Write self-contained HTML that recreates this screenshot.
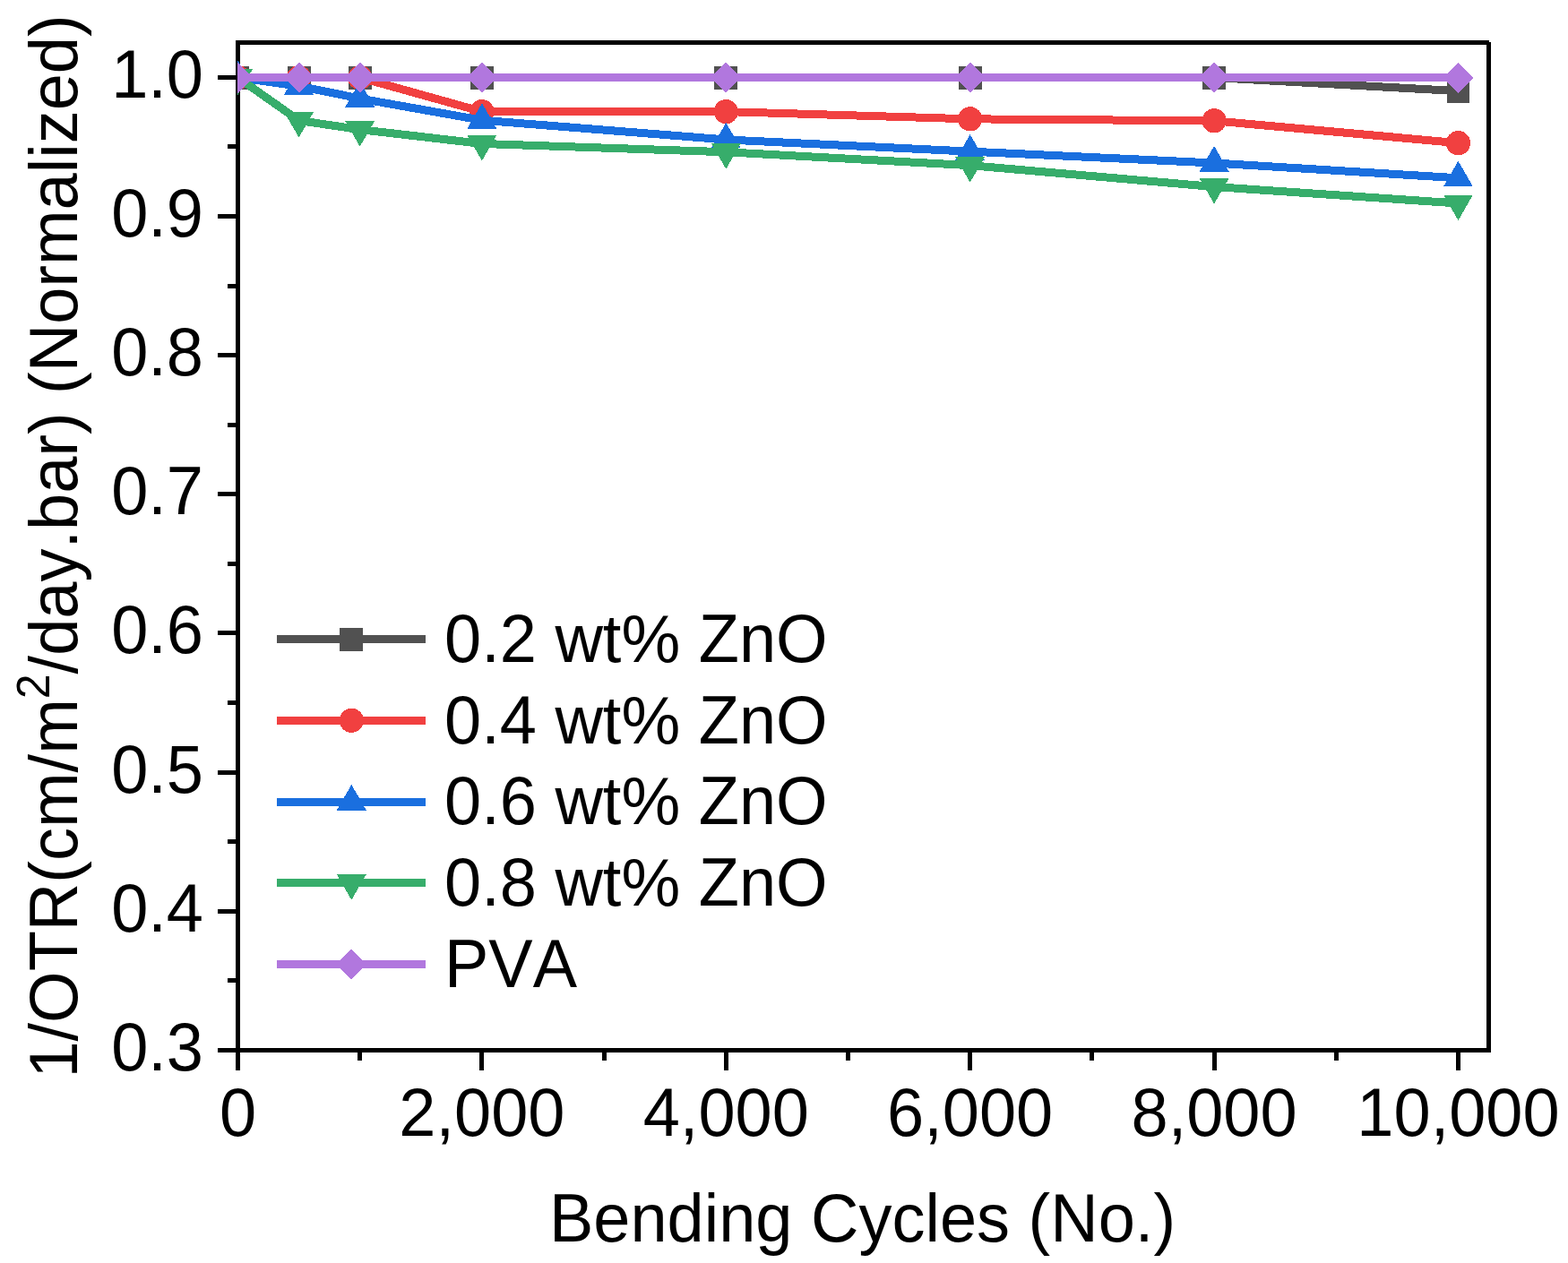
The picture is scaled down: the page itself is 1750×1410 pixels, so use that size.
<!DOCTYPE html>
<html><head><meta charset="utf-8">
<style>
html,body{margin:0;padding:0;background:#fff;}
body{width:1750px;height:1410px;overflow:hidden;}
svg{display:block;}
text{font-family:"Liberation Sans",Arial,sans-serif;font-size:74px;fill:#000;font-kerning:none;}
</style></head><body>
<svg width="1750" height="1410" viewBox="0 0 1750 1410">
<defs><clipPath id="cp"><rect x="265" y="47.5" width="1396.5" height="1125"/></clipPath></defs>
<rect width="1750" height="1410" fill="#fff"/>
<rect x="263" y="45" width="5" height="1130" fill="#000"/>
<rect x="263" y="45" width="1399" height="5" fill="#000"/>
<rect x="1659" y="47" width="5" height="1128" fill="#000"/>
<rect x="263" y="1170" width="1401" height="5" fill="#000"/>
<rect x="243" y="1170" width="22" height="5" fill="#000"/>
<rect x="254" y="1092" width="11" height="5" fill="#000"/>
<rect x="243" y="1015" width="22" height="5" fill="#000"/>
<rect x="254" y="937" width="11" height="5" fill="#000"/>
<rect x="243" y="860" width="22" height="5" fill="#000"/>
<rect x="254" y="782" width="11" height="5" fill="#000"/>
<rect x="243" y="704" width="22" height="5" fill="#000"/>
<rect x="254" y="627" width="11" height="5" fill="#000"/>
<rect x="243" y="549" width="22" height="5" fill="#000"/>
<rect x="254" y="472" width="11" height="5" fill="#000"/>
<rect x="243" y="394" width="22" height="5" fill="#000"/>
<rect x="254" y="317" width="11" height="5" fill="#000"/>
<rect x="243" y="239" width="22" height="5" fill="#000"/>
<rect x="254" y="161" width="11" height="5" fill="#000"/>
<rect x="243" y="84" width="22" height="5" fill="#000"/>
<rect x="263" y="1170" width="5" height="25" fill="#000"/>
<rect x="399" y="1170" width="5" height="14" fill="#000"/>
<rect x="535" y="1170" width="5" height="25" fill="#000"/>
<rect x="672" y="1170" width="5" height="14" fill="#000"/>
<rect x="808" y="1170" width="5" height="25" fill="#000"/>
<rect x="944" y="1170" width="5" height="14" fill="#000"/>
<rect x="1080" y="1170" width="5" height="25" fill="#000"/>
<rect x="1216" y="1170" width="5" height="14" fill="#000"/>
<rect x="1353" y="1170" width="5" height="25" fill="#000"/>
<rect x="1489" y="1170" width="5" height="14" fill="#000"/>
<rect x="1625" y="1170" width="5" height="25" fill="#000"/>
<g clip-path="url(#cp)" shape-rendering="crispEdges">
<polyline points="265.50,86.60 333.60,86.60 401.70,86.60 537.90,86.60 810.30,86.60 1082.70,86.60 1355.10,86.60 1627.50,101.65" fill="none" stroke="#515151" stroke-width="9.0" stroke-linejoin="miter" stroke-miterlimit="4"/>
<rect x="252.60" y="73.70" width="25.80" height="25.80" fill="#515151"/>
<rect x="320.70" y="73.70" width="25.80" height="25.80" fill="#515151"/>
<rect x="388.80" y="73.70" width="25.80" height="25.80" fill="#515151"/>
<rect x="525.00" y="73.70" width="25.80" height="25.80" fill="#515151"/>
<rect x="797.40" y="73.70" width="25.80" height="25.80" fill="#515151"/>
<rect x="1069.80" y="73.70" width="25.80" height="25.80" fill="#515151"/>
<rect x="1342.20" y="73.70" width="25.80" height="25.80" fill="#515151"/>
<rect x="1614.60" y="88.75" width="25.80" height="25.80" fill="#515151"/>
<polyline points="265.50,86.60 333.60,86.60 401.70,86.60 537.90,124.61 810.30,124.61 1082.70,132.83 1355.10,134.85 1627.50,159.67" fill="none" stroke="#F14040" stroke-width="9.0" stroke-linejoin="miter" stroke-miterlimit="4"/>
<circle cx="265.50" cy="86.60" r="13.60" fill="#F14040"/>
<circle cx="333.60" cy="86.60" r="13.60" fill="#F14040"/>
<circle cx="401.70" cy="86.60" r="13.60" fill="#F14040"/>
<circle cx="537.90" cy="124.61" r="13.60" fill="#F14040"/>
<circle cx="810.30" cy="124.61" r="13.60" fill="#F14040"/>
<circle cx="1082.70" cy="132.83" r="13.60" fill="#F14040"/>
<circle cx="1355.10" cy="134.85" r="13.60" fill="#F14040"/>
<circle cx="1627.50" cy="159.67" r="13.60" fill="#F14040"/>
<polyline points="265.50,86.60 333.60,96.06 401.70,110.03 537.90,134.23 810.30,155.95 1082.70,169.13 1355.10,182.01 1627.50,198.77" fill="none" stroke="#1A6FDF" stroke-width="9.0" stroke-linejoin="miter" stroke-miterlimit="4"/>
<path d="M265.50 67.60L281.95 96.10L249.05 96.10Z" fill="#1A6FDF"/>
<path d="M333.60 77.06L350.05 105.56L317.15 105.56Z" fill="#1A6FDF"/>
<path d="M401.70 91.03L418.15 119.53L385.25 119.53Z" fill="#1A6FDF"/>
<path d="M537.90 115.23L554.35 143.73L521.45 143.73Z" fill="#1A6FDF"/>
<path d="M810.30 136.95L826.75 165.45L793.85 165.45Z" fill="#1A6FDF"/>
<path d="M1082.70 150.13L1099.15 178.63L1066.25 178.63Z" fill="#1A6FDF"/>
<path d="M1355.10 163.01L1371.55 191.51L1338.65 191.51Z" fill="#1A6FDF"/>
<path d="M1627.50 179.77L1643.95 208.27L1611.05 208.27Z" fill="#1A6FDF"/>
<polyline points="265.50,86.60 333.60,134.54 401.70,144.62 537.90,160.45 810.30,169.76 1082.70,184.65 1355.10,208.54 1627.50,227.00" fill="none" stroke="#37AD6B" stroke-width="9.0" stroke-linejoin="miter" stroke-miterlimit="4"/>
<path d="M265.50 105.60L281.95 77.10L249.05 77.10Z" fill="#37AD6B"/>
<path d="M333.60 153.54L350.05 125.04L317.15 125.04Z" fill="#37AD6B"/>
<path d="M401.70 163.62L418.15 135.12L385.25 135.12Z" fill="#37AD6B"/>
<path d="M537.90 179.45L554.35 150.95L521.45 150.95Z" fill="#37AD6B"/>
<path d="M810.30 188.76L826.75 160.26L793.85 160.26Z" fill="#37AD6B"/>
<path d="M1082.70 203.65L1099.15 175.15L1066.25 175.15Z" fill="#37AD6B"/>
<path d="M1355.10 227.54L1371.55 199.04L1338.65 199.04Z" fill="#37AD6B"/>
<path d="M1627.50 246.00L1643.95 217.50L1611.05 217.50Z" fill="#37AD6B"/>
<polyline points="265.50,86.60 333.60,86.60 401.70,86.60 537.90,86.60 810.30,86.60 1082.70,86.60 1355.10,86.60 1627.50,86.60" fill="none" stroke="#B177DE" stroke-width="9.0" stroke-linejoin="miter" stroke-miterlimit="4"/>
<path d="M265.50 69.60L282.50 86.60L265.50 103.60L248.50 86.60Z" fill="#B177DE"/>
<path d="M333.60 69.60L350.60 86.60L333.60 103.60L316.60 86.60Z" fill="#B177DE"/>
<path d="M401.70 69.60L418.70 86.60L401.70 103.60L384.70 86.60Z" fill="#B177DE"/>
<path d="M537.90 69.60L554.90 86.60L537.90 103.60L520.90 86.60Z" fill="#B177DE"/>
<path d="M810.30 69.60L827.30 86.60L810.30 103.60L793.30 86.60Z" fill="#B177DE"/>
<path d="M1082.70 69.60L1099.70 86.60L1082.70 103.60L1065.70 86.60Z" fill="#B177DE"/>
<path d="M1355.10 69.60L1372.10 86.60L1355.10 103.60L1338.10 86.60Z" fill="#B177DE"/>
<path d="M1627.50 69.60L1644.50 86.60L1627.50 103.60L1610.50 86.60Z" fill="#B177DE"/>
</g>
<text transform="translate(227.00,1194.78) scale(1,1.035)" text-anchor="end">0.3</text>
<text transform="translate(227.00,1039.64) scale(1,1.035)" text-anchor="end">0.4</text>
<text transform="translate(227.00,884.50) scale(1,1.035)" text-anchor="end">0.5</text>
<text transform="translate(227.00,729.36) scale(1,1.035)" text-anchor="end">0.6</text>
<text transform="translate(227.00,574.22) scale(1,1.035)" text-anchor="end">0.7</text>
<text transform="translate(227.00,419.08) scale(1,1.035)" text-anchor="end">0.8</text>
<text transform="translate(227.00,263.94) scale(1,1.035)" text-anchor="end">0.9</text>
<text transform="translate(227.00,108.80) scale(1,1.035)" text-anchor="end">1.0</text>
<text transform="translate(265.50,1268.30) scale(1,1.035)" text-anchor="middle">0</text>
<text transform="translate(537.90,1268.30) scale(1,1.035)" text-anchor="middle">2,000</text>
<text transform="translate(810.30,1268.30) scale(1,1.035)" text-anchor="middle">4,000</text>
<text transform="translate(1082.70,1268.30) scale(1,1.035)" text-anchor="middle">6,000</text>
<text transform="translate(1355.10,1268.30) scale(1,1.035)" text-anchor="middle">8,000</text>
<text transform="translate(1627.50,1268.30) scale(1,1.035)" text-anchor="middle">10,000</text>
<text transform="translate(962.50,1386.00) scale(1,1.035)" text-anchor="middle">Bending Cycles (No.)</text>
<text transform="translate(86,610) rotate(-90) scale(1,1.035)" text-anchor="middle">1/OTR(cm/m<tspan font-size="50" dy="-30">2</tspan><tspan dy="30">/day.bar) (Normalized)</tspan></text>
<g shape-rendering="crispEdges">
<line x1="309" y1="713.60" x2="475" y2="713.60" stroke="#515151" stroke-width="9.0"/>
<rect x="379.40" y="700.70" width="25.80" height="25.80" fill="#515151"/>
<text transform="translate(496.00,738.90) scale(1,1.035)">0.2 wt% ZnO</text>
<line x1="309" y1="804.30" x2="475" y2="804.30" stroke="#F14040" stroke-width="9.0"/>
<circle cx="392.30" cy="804.30" r="13.60" fill="#F14040"/>
<text transform="translate(496.00,829.60) scale(1,1.035)">0.4 wt% ZnO</text>
<line x1="309" y1="895.00" x2="475" y2="895.00" stroke="#1A6FDF" stroke-width="9.0"/>
<path d="M392.30 876.00L408.75 904.50L375.85 904.50Z" fill="#1A6FDF"/>
<text transform="translate(496.00,920.30) scale(1,1.035)">0.6 wt% ZnO</text>
<line x1="309" y1="985.70" x2="475" y2="985.70" stroke="#37AD6B" stroke-width="9.0"/>
<path d="M392.30 1004.70L408.75 976.20L375.85 976.20Z" fill="#37AD6B"/>
<text transform="translate(496.00,1011.00) scale(1,1.035)">0.8 wt% ZnO</text>
<line x1="309" y1="1076.40" x2="475" y2="1076.40" stroke="#B177DE" stroke-width="9.0"/>
<path d="M392.30 1059.40L409.30 1076.40L392.30 1093.40L375.30 1076.40Z" fill="#B177DE"/>
<text transform="translate(496.00,1101.70) scale(1,1.035)">PVA</text>
</g>
</svg>
</body></html>
